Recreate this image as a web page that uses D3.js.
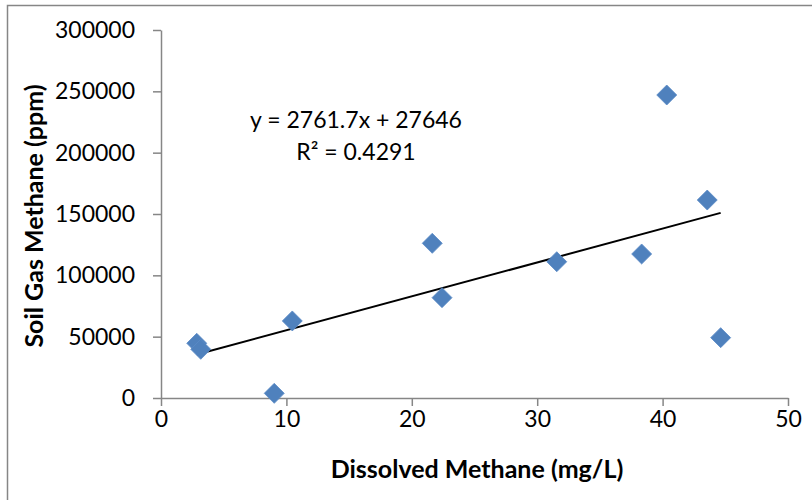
<!DOCTYPE html>
<html lang="en">
<head>
    <meta charset="UTF-8">
    <title>Soil Gas Methane vs Dissolved Methane</title>
    <script src="https://d3js.org/d3.v7.min.js"></script>
    <style>
        body {
            margin: 0;
            background: #fff;
        }
        svg text {
            font-family: Lato, "Open Sans", sans-serif;
        }
        .axis path, .axis line {
            stroke: #868686;
            stroke-width: 1.5px;
        }
        .axis text {
            font-size: 23px;
            fill: #000;
        }
        .title {
            font-size: 25px;
            font-weight: bold;
        }
    </style>
</head>
<body>
<svg id="chart"></svg>
<script>
    // Dissolved methane (mg/L) and soil gas methane (ppm)
    const dissolved = [2.85, 3.17, 9.03, 10.47, 21.63, 22.41, 31.56, 38.33, 40.33, 43.56, 44.63];
    const soilGas = [44600, 39700, 3800, 62800, 126100, 81800, 111100, 117400, 247000, 161400, 49200];
    const xTicks = [0, 10, 20, 30, 40, 50];
    const yTicks = [0, 50000, 100000, 150000, 200000, 250000, 300000];
    // linear trendline as shown on the chart
    const slope = 2761.7;
    const intercept = 27646;
    const eqLines = ["y = 2761.7x + 27646", "R\u00B2 = 0.4291"];

    const width = 812, height = 500;
    const svg = d3.select("#chart").attr("width", width).attr("height", height);

    // chart frame (only left and top edges visible)
    svg.append("rect")
        .attr("x", 7.5).attr("y", 5.5)
        .attr("width", 900).attr("height", 600)
        .attr("fill", "none")
        .attr("stroke", "#868686")
        .attr("stroke-width", 1.5);

    const x = d3.scaleLinear().domain([0, 50]).range([161, 788]);
    const y = d3.scaleLinear().domain([0, 300000]).range([398, 30]);

    // axes
    svg.append("g")
        .attr("class", "axis")
        .attr("transform", `translate(0,${y(0)})`)
        .call(d3.axisBottom(x).tickValues(xTicks).tickSize(8).tickPadding(5).tickSizeOuter(0));

    svg.append("g")
        .attr("class", "axis")
        .attr("transform", `translate(${x(0)},0)`)
        .call(d3.axisLeft(y).tickValues(yTicks).tickSize(8).tickPadding(18).tickSizeOuter(0)
            .tickFormat(d3.format("d")));

    // trendline
    const xs = d3.extent(dissolved);
    svg.append("line")
        .attr("x1", x(xs[0])).attr("y1", y(slope * xs[0] + intercept))
        .attr("x2", x(xs[1])).attr("y2", y(slope * xs[1] + intercept))
        .attr("stroke", "#000")
        .attr("stroke-width", 2);

    // diamond markers
    const r = 10;
    const diamond = `M0,${-r}L${r},0L0,${r}L${-r},0Z`;
    svg.append("g")
        .selectAll("path")
        .data(dissolved.map((d, i) => [d, soilGas[i]]))
        .join("path")
        .attr("d", diamond)
        .attr("transform", d => `translate(${x(d[0])},${y(d[1])})`)
        .attr("fill", "#4F81BD")
        .attr("stroke", "#5a8ac6")
        .attr("stroke-width", 0.8);

    // equation label
    svg.append("g")
        .selectAll("text")
        .data(eqLines)
        .join("text")
        .attr("x", 356)
        .attr("y", (d, i) => 128 + i * 32)
        .attr("text-anchor", "middle")
        .attr("font-size", 23)
        .text(d => d);

    // axis titles
    svg.append("text")
        .attr("class", "title")
        .attr("x", 477).attr("y", 478)
        .attr("text-anchor", "middle")
        .text("Dissolved Methane (mg/L)");

    svg.append("text")
        .attr("class", "title")
        .attr("transform", "translate(43,216) rotate(-90)")
        .attr("text-anchor", "middle")
        .text("Soil Gas Methane (ppm)");
</script>
</body>
</html>
